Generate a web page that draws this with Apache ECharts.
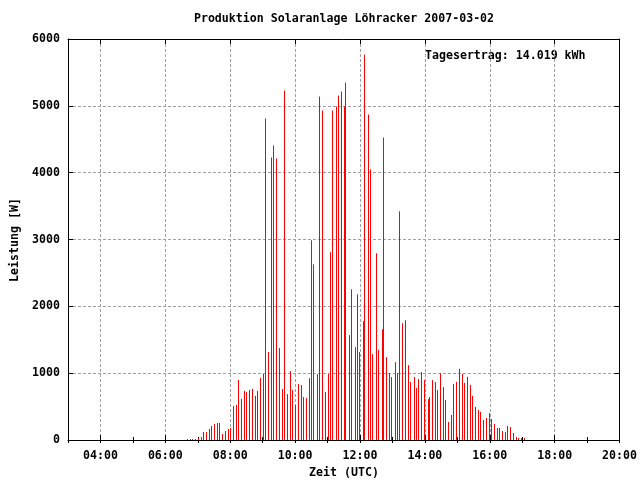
<!DOCTYPE html>
<html>
<head>
<meta charset="utf-8">
<script src="https://cdn.jsdelivr.net/npm/echarts@6/dist/echarts.min.js"></script>
<style>html,body{margin:0;padding:0;background:#fff}#c{width:640px;height:480px}</style>
</head>
<body>
<div id="c"></div>
<script>
var times = ["06:40","06:46","06:49","06:55","07:01","07:06","07:10","07:15","07:21","07:25","07:30","07:35","07:39","07:45","07:50","07:56","08:00","08:05","08:11","08:14","08:20","08:25","08:29","08:35","08:40","08:46","08:49","08:55","09:00","09:04","09:10","09:15","09:19","09:24","09:30","09:35","09:39","09:45","09:50","09:54","09:59","10:05","10:10","10:14","10:20","10:25","10:29","10:34","10:40","10:44","10:49","10:55","11:00","11:04","11:09","11:15","11:19","11:24","11:30","11:33","11:39","11:44","11:50","11:54","11:59","12:05","12:08","12:14","12:19","12:23","12:29","12:34","12:40","12:43","12:49","12:54","12:58","13:04","13:09","13:13","13:18","13:24","13:29","13:33","13:39","13:44","13:48","13:53","13:59","14:05","14:08","14:14","14:19","14:23","14:28","14:34","14:38","14:43","14:49","14:52","14:58","15:03","15:09","15:13","15:18","15:24","15:27","15:33","15:39","15:42","15:48","15:53","15:59","16:02","16:08","16:14","16:17","16:23","16:28","16:32","16:38","16:43","16:49","16:52","16:58","17:03"];
var power = [15,15,15,15,30,45,120,120,165,210,240,255,255,90,135,165,180,510,525,900,615,735,720,750,765,660,735,930,990,4811,1315,4228,4407,4213,1375,762,5229,687,1031,747,523,837,822,642,627,926,2988,2629,986,5139,4930,717,986,2809,4930,4990,5154,5214,4990,5349,1569,2256,1389,2181,1315,1778,5767,4871,4049,1285,2794,1345,1658,4527,1240,1001,941,1165,1001,3421,1748,1793,1120,867,941,777,911,1016,896,612,642,896,866,746,1000,791,600,269,375,840,870,1065,990,855,945,825,660,495,450,420,300,330,405,315,240,180,180,135,120,210,195,105,45,30,30,30];
var xMinHour = 3, xMaxHour = 20;
var yMax = 6000, yStep = 1000;
var titleText = "Produktion Solaranlage Löhracker 2007-03-02";
var xName = "Zeit (UTC)";
var yName = "Leistung [W]";
var noteText = "Tagesertrag: 14.019 kWh";

function toHours(t){ var p = t.split(":"); return +p[0] + (+p[1])/60; }
var data = times.map(function(t,i){ return [toHours(t), power[i]]; });

var FONT = "'DejaVu Sans Mono', monospace";
var txt = {fontFamily: FONT, fontWeight: 'bold', fontSize: 11.6, color: '#000'};
var grid = {color: '#a0a0a0', width: 1, type: [3, 2]};
function hh(v){ if (v === xMinHour) return ''; return (v < 10 ? '0' : '') + v + ':00'; }

var baseX = {type: 'value', min: xMinHour, max: xMaxHour, gridIndex: 0};
var chart = echarts.init(document.getElementById('c'), null, {renderer: 'canvas'});
chart.setOption({
  animation: false,
  backgroundColor: '#fff',
  grid: {left: 68, right: 19, top: 39, bottom: 40, show: false},
  xAxis: [
    Object.assign({}, baseX, {position: 'bottom', splitNumber: 8, minInterval: 2, maxInterval: 2,
      axisLine: {show: true, onZero: false, lineStyle: {color: '#000', width: 1}},
      axisTick: {show: true, inside: true, length: 5, lineStyle: {color: '#000'}},
      axisLabel: Object.assign({margin: 10, formatter: hh}, txt),
      splitLine: {show: true, lineStyle: grid}}),
    Object.assign({}, baseX, {position: 'bottom', interval: 1,
      axisLine: {show: false}, axisTick: {show: true, inside: true, length: 3, lineStyle: {color: '#000'}},
      axisLabel: {show: false}, splitLine: {show: false}}),
    Object.assign({}, baseX, {position: 'top', splitNumber: 8, minInterval: 2, maxInterval: 2,
      axisLine: {show: true, onZero: false, lineStyle: {color: '#000', width: 1}},
      axisTick: {show: true, inside: true, length: 5, lineStyle: {color: '#000'}},
      axisLabel: {show: false}, splitLine: {show: false}}),
    Object.assign({}, baseX, {position: 'top', interval: 1,
      axisLine: {show: false}, axisTick: {show: true, inside: true, length: 3, lineStyle: {color: '#000'}},
      axisLabel: {show: false}, splitLine: {show: false}})
  ],
  yAxis: [
    {type: 'value', min: 0, max: yMax, interval: yStep, position: 'left',
      axisLine: {show: true, onZero: false, lineStyle: {color: '#000', width: 1}},
      axisTick: {show: true, inside: true, length: 5, lineStyle: {color: '#000'}},
      axisLabel: Object.assign({margin: 8, formatter: function(v){ return String(v); }}, txt),
      splitLine: {show: true, lineStyle: grid}},
    {type: 'value', min: 0, max: yMax, interval: yStep, position: 'right',
      axisLine: {show: true, onZero: false, lineStyle: {color: '#000', width: 1}},
      axisTick: {show: true, inside: true, length: 5, lineStyle: {color: '#000'}},
      axisLabel: {show: false}, splitLine: {show: false}}
  ],
  series: [{
    type: 'custom', xAxisIndex: 0, yAxisIndex: 0, data: data, silent: true,
    renderItem: function(params, api){
      var top = api.coord([api.value(0), api.value(1)]);
      var base = api.coord([api.value(0), 0]);
      var x = Math.round(top[0]) + 0.5;
      return {type: 'line', shape: {x1: x, y1: Math.round(base[1]), x2: x, y2: top[1]},
        style: {stroke: '#ff0000', lineWidth: 1}};
    }
  }],
  graphic: [
    {type: 'text', x: 344, y: 19, style: {text: titleText, align: 'center', verticalAlign: 'middle', fill: '#000', font: "bold 11.6px " + FONT}},
    {type: 'text', x: 425, y: 56, style: {text: noteText, align: 'left', verticalAlign: 'middle', fill: '#000', font: "bold 11.6px " + FONT}},
    {type: 'text', x: 344, y: 473, style: {text: xName, align: 'center', verticalAlign: 'middle', fill: '#000', font: "bold 11.6px " + FONT}},
    {type: 'text', x: 15, y: 240, rotation: Math.PI/2, style: {text: yName, align: 'center', verticalAlign: 'middle', fill: '#000', font: "bold 11.6px " + FONT}}
  ]
});
</script>
</body>
</html>
